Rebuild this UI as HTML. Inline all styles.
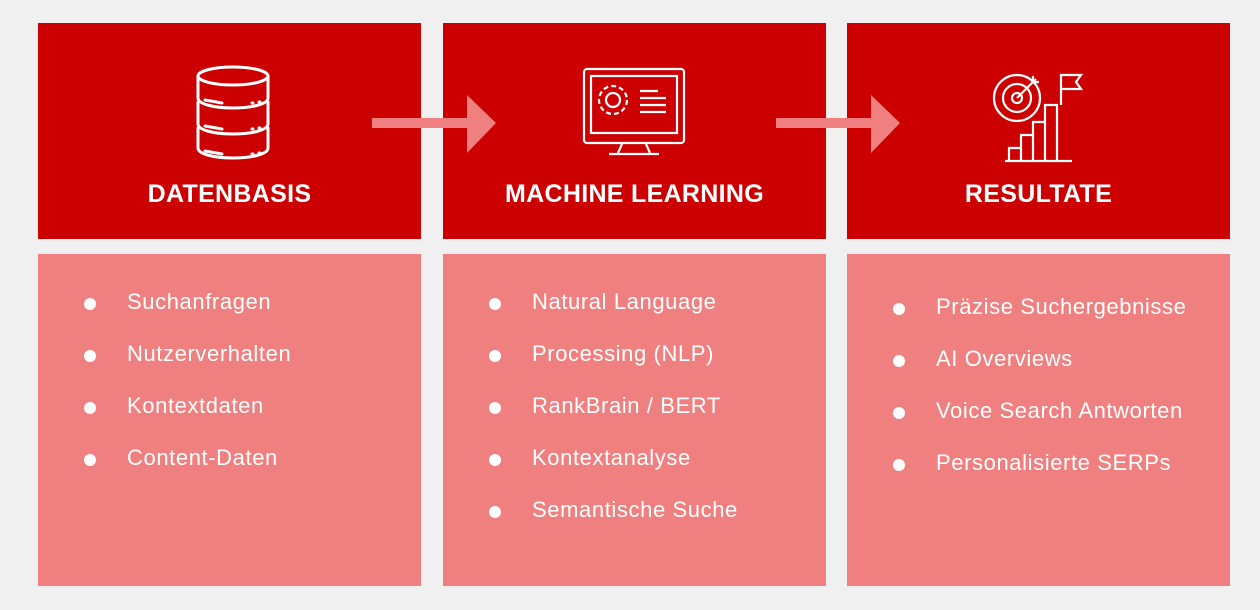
<!DOCTYPE html>
<html><head><meta charset="utf-8"><style>
body{margin:0;width:1260px;height:610px;background:#f0f0f0;position:relative;overflow:hidden;font-family:"Liberation Sans",sans-serif}
.top{position:absolute;top:23px;height:216px;width:383px;background:#cc0000}
.bot{position:absolute;top:254px;height:332px;width:383px;background:#f08080}
.h{position:absolute;top:157px;left:0;width:100%;text-align:center;color:#fff;font-weight:bold;font-size:25px;letter-spacing:0.3px}
ul{list-style:none;margin:0;padding:0;position:absolute;left:46px;top:33px}
li{position:relative;padding-left:43px;height:52px;color:#fff;font-size:22px;line-height:30px;letter-spacing:0.6px}
li:before{content:"";position:absolute;left:0;top:11px;width:12px;height:12px;border-radius:50%;background:#fff}
svg{position:absolute}
</style></head><body>
<div class="top" style="left:38px"><div class="h">DATENBASIS</div></div>
<div class="top" style="left:443px"><div class="h">MACHINE LEARNING</div></div>
<div class="top" style="left:847px"><div class="h">RESULTATE</div></div>
<div class="bot" style="left:38px"><ul><li>Suchanfragen</li><li>Nutzerverhalten</li><li>Kontextdaten</li><li>Content-Daten</li></ul></div>
<div class="bot" style="left:443px"><ul><li>Natural Language</li><li>Processing (NLP)</li><li>RankBrain / BERT</li><li>Kontextanalyse</li><li>Semantische Suche</li></ul></div>
<div class="bot" style="left:847px"><ul style="top:38px"><li>Präzise Suchergebnisse</li><li>AI Overviews</li><li>Voice Search Antworten</li><li>Personalisierte SERPs</li></ul></div>
<svg width="1260" height="610" style="left:0;top:0">
<g fill="#f08080"><rect x="372" y="118" width="96" height="10"/><polygon points="467,95 496,123 467,153"/>
<rect x="776" y="118" width="96" height="10"/><polygon points="871,95 900,123 871,153"/></g>
<g fill="none" stroke="#fff" stroke-width="3" stroke-linecap="round">
<ellipse cx="233" cy="76" rx="35" ry="9"/>
<path d="M198 76v22c0 6 16 10 35 10s35-4 35-10V76"/>
<path d="M198 102v22c0 6 16 10 35 10s35-4 35-10V102"/>
<path d="M198 128v20c0 6 16 10 35 10s35-4 35-10v-20"/>
<path d="M205 100l17 3M205 126l17 3M205 151l17 3"/>
<path d="M252 103h1M259 102h1M252 129h1M259 128h1M252 154h1M259 153h1"/>
</g>
<g fill="none" stroke="#fff" stroke-width="2.2">
<rect x="584" y="69" width="100" height="74" rx="3"/>
<rect x="591" y="76" width="86" height="57"/>
<path d="M622 144l-4 9M646 144l4 9M609 154h50"/>
<circle cx="613" cy="100" r="7"/>
<circle cx="613" cy="100" r="14" stroke-dasharray="5 3"/>
<path d="M640 91h18M640 98h26M640 105h26M640 112h26"/>
</g>
<g fill="none" stroke="#fff" stroke-width="2.2">
<circle cx="1017" cy="98" r="23"/><circle cx="1017" cy="98" r="14"/><circle cx="1017" cy="98" r="5"/>
<path d="M1017 98l19-19M1033 76v6h6"/>
<path d="M1009 160v-12h12v12M1021 160v-25h12v25M1033 160v-38h12v38M1045 160v-55h12v55M1005 161h67"/>
<path d="M1061 105V75h20l-5 7 5 7h-20"/>
</g>
</svg>
</body></html>
